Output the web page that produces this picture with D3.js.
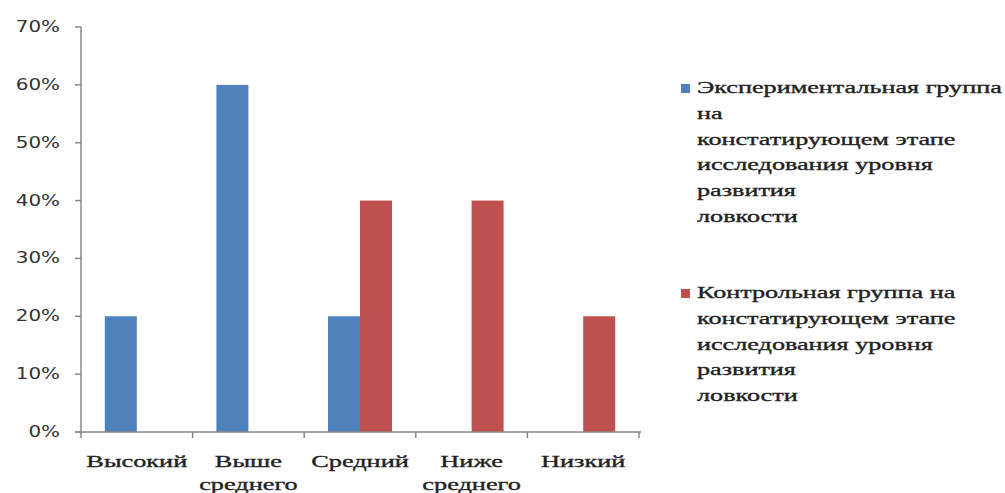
<!DOCTYPE html>
<html><head><meta charset="utf-8">
<script src="https://cdn.jsdelivr.net/npm/d3@7"></script>
<style>body{margin:0;background:#fff}svg{display:block}</style>
</head><body>
<svg id="c" width="1005" height="493"></svg>
<script>
const categories = [["Высокий"],["Выше","среднего"],["Средний"],["Ниже","среднего"],["Низкий"]];
const catKeys = ["Высокий","Выше среднего","Средний","Ниже среднего","Низкий"];
const expValues = [0.2, 0.6, 0.2, 0, 0];
const ctrlValues = [0, 0, 0.4, 0.4, 0.2];
const yTicks = [0,0.1,0.2,0.3,0.4,0.5,0.6,0.7];
const legendLines = [
  ["Экспериментальная группа","на","констатирующем этапе","исследования уровня","развития","ловкости"],
  ["Контрольная группа на","констатирующем этапе","исследования уровня","развития","ловкости"]
];
const colors = ["#4F81BD","#C0504D"];
const SX = 1.33;
const SERIF = "'Liberation Serif','Times New Roman',serif";

const svg = d3.select("#c");
const x0 = d3.scaleBand().domain(catKeys).range([81,639]).paddingInner(0).paddingOuter(0);
const y = d3.scaleLinear().domain([0,0.7]).range([432,27]);
const barW = 32;

const data = [expValues, ctrlValues];
data.forEach((vals,s)=>{
  svg.append("g").selectAll("rect").data(vals).join("rect")
    .attr("x",(d,i)=>x0(catKeys[i]) + x0.bandwidth()/2 - barW + s*barW)
    .attr("width",barW)
    .attr("y",d=>y(d))
    .attr("height",d=>y(0)-y(d))
    .attr("fill",colors[s]);
});

const ya = svg.append("g");
ya.append("line").attr("x1",81).attr("x2",81).attr("y1",y(0.7)).attr("y2",y(0)).attr("stroke","#888").attr("stroke-width",1.5);
yTicks.forEach(t=>{
  ya.append("line").attr("x1",75).attr("x2",81).attr("y1",y(t)).attr("y2",y(t)).attr("stroke","#888").attr("stroke-width",1.5);
  ya.append("text").attr("transform",`translate(60,${y(t)+5}) scale(${SX},1)`)
    .attr("text-anchor","end").attr("font-family","DejaVu Sans").attr("font-size",15).attr("fill","#333")
    .text(d3.format(".0%")(t));
});
const xa = svg.append("g");
xa.append("line").attr("x1",75).attr("x2",x0.range()[1]+2).attr("y1",y(0)).attr("y2",y(0)).attr("stroke","#888").attr("stroke-width",1.5);
catKeys.forEach(k=>{
  xa.append("line").attr("x1",x0(k)).attr("x2",x0(k)).attr("y1",y(0)).attr("y2",y(0)+6).attr("stroke","#888").attr("stroke-width",1.5);
});
xa.append("line").attr("x1",x0.range()[1]).attr("x2",x0.range()[1]).attr("y1",y(0)).attr("y2",y(0)+6).attr("stroke","#888").attr("stroke-width",1.5);

const lx = [];
categories.forEach((lines,i)=>{
  const cx = x0(catKeys[i]) + x0.bandwidth()/2;
  lines.forEach((ln,j)=>{
    lx.push(xa.append("text").attr("data-cx",cx).attr("data-y",467+j*23)
      .attr("text-anchor","middle").attr("font-family",SERIF).attr("font-size",17).attr("fill","#222").attr("stroke","#222").attr("stroke-width",0.35)
      .text(ln));
  });
});
const wRef = lx[0].node().getComputedTextLength();
const sxX = 101 / wRef;
lx.forEach(t=>t.attr("transform",`translate(${t.attr("data-cx")},${t.attr("data-y")}) scale(${sxX},1)`));

const legY = [93, 298];
const lt = [];
legendLines.forEach((lines,s)=>{
  const g = svg.append("g");
  g.append("rect").attr("x",681).attr("y",legY[s]-9).attr("width",9).attr("height",9).attr("fill",colors[s]);
  lines.forEach((ln,j)=>{
    lt.push(g.append("text").attr("data-y",legY[s]+j*25.8)
      .attr("font-family",SERIF).attr("font-size",17).attr("fill","#222").attr("stroke","#222").attr("stroke-width",0.35)
      .text(ln));
  });
});
const wL = lt[0].node().getComputedTextLength();
const sxL = 305 / wL;
lt.forEach(t=>t.attr("transform",`translate(697,${t.attr("data-y")}) scale(${sxL},1)`));
</script>
</body></html>
